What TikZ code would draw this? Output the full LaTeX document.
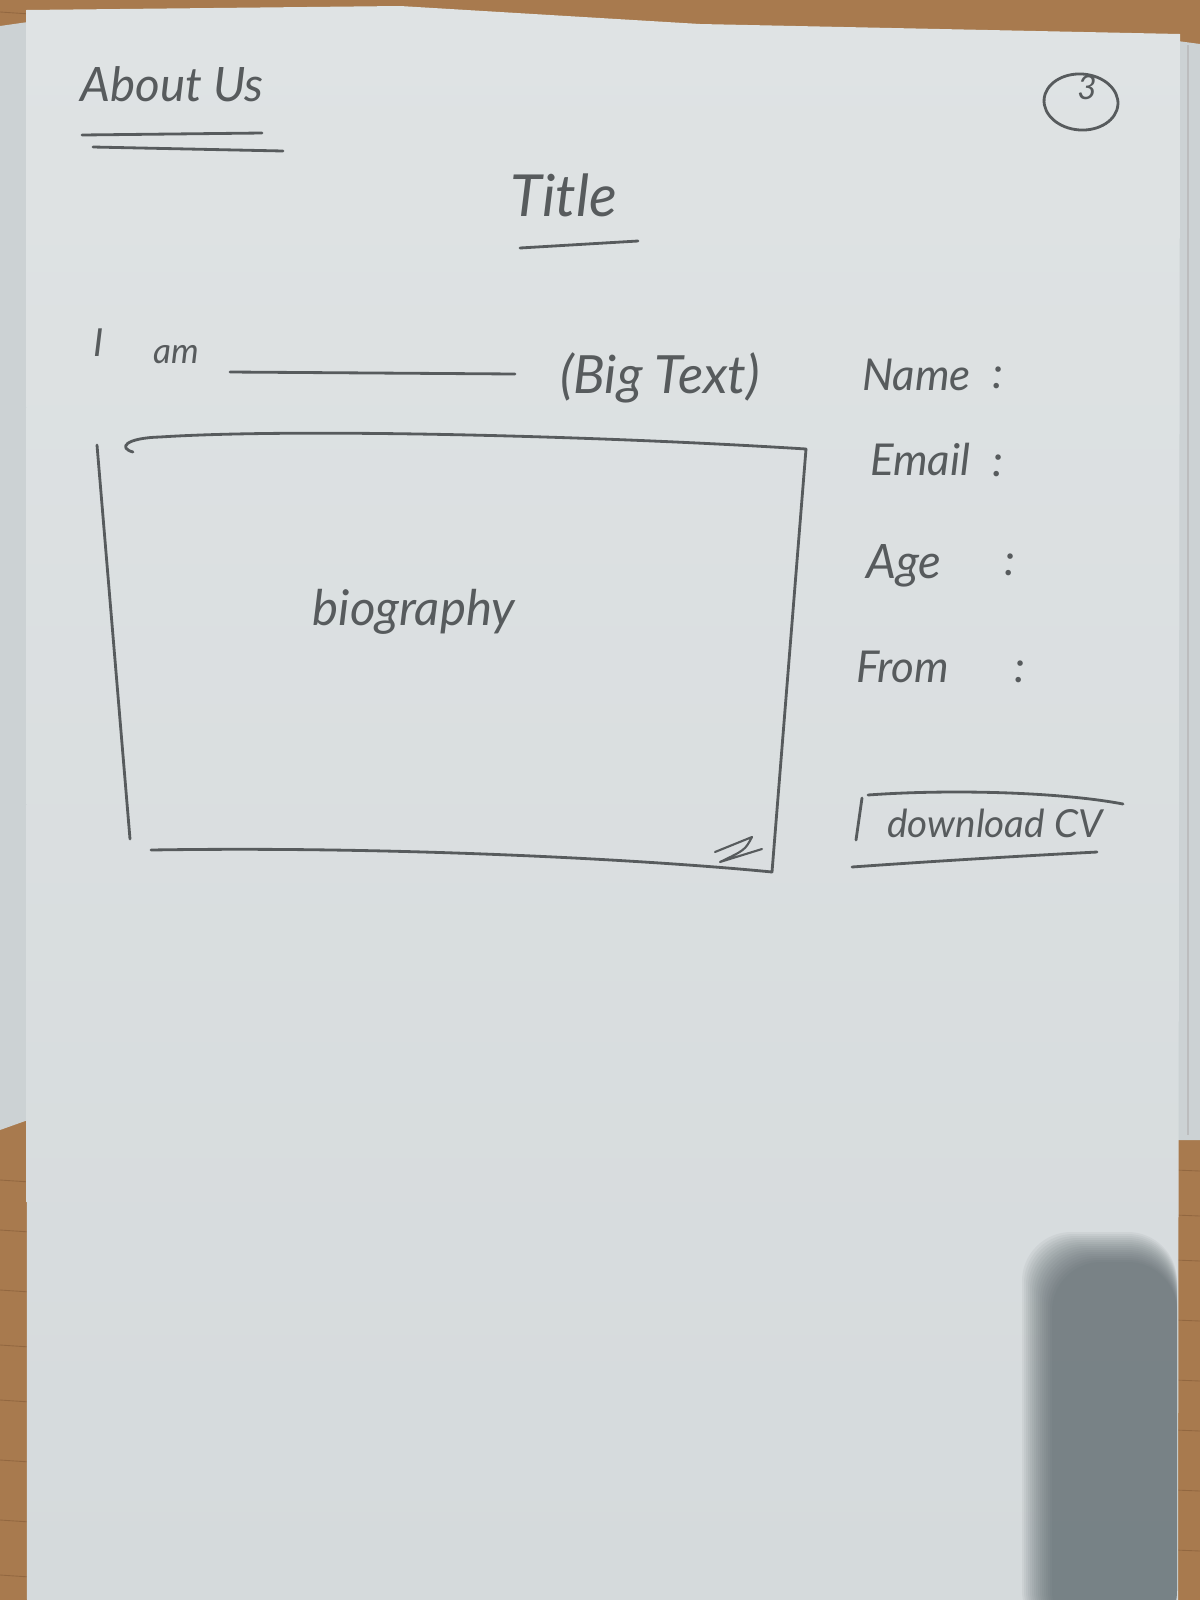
\documentclass[tikz,border=0pt]{standalone}
\usepackage{fontspec}
\setmainfont{Lato}
\usetikzlibrary{calc}
\definecolor{wood}{HTML}{A87A4E}
\definecolor{woodgrain}{HTML}{7E5634}
\definecolor{paper}{HTML}{D5DADC}
\definecolor{paperhi}{HTML}{DFE3E4}
\definecolor{sheet}{HTML}{CCD2D4}
\definecolor{pen}{HTML}{575B5D}
\definecolor{shadowink}{HTML}{505C62}
\begin{document}
\begin{tikzpicture}[x=0.02cm,y=-0.02cm,
  ink/.style={draw=pen, line width=1.6pt, line cap=round, line join=round},
  hand/.style={text=pen, font=\itshape\fontsize{#1}{#1}\selectfont, inner sep=0pt},
]
\useasboundingbox (0,0) rectangle (1200,1600);

% desk
\fill[wood] (0,0) rectangle (1200,1600);
\foreach \yy in {12,1180,1230,1290,1345,1400,1460,1520,1575}
  \draw[woodgrain, line width=0.5pt, opacity=0.5] (0,\yy) -- (30,\yy+2);
\foreach \yy in {1170,1215,1260,1320,1380,1430,1490,1550}
  \draw[woodgrain, line width=0.5pt, opacity=0.5] (1175,\yy) -- (1200,\yy+1);

% sheets lying underneath
\fill[sheet] (0,26) -- (28,22) -- (28,1120) -- (0,1130) -- cycle;
\fill[sheet] (1170,40) -- (1200,44) -- (1200,1140) -- (1170,1140) -- cycle;
\draw[pen!40, line width=0.6pt] (1188,45) -- (1188,1135);

% top sheet
\shade[top color=paperhi, bottom color=paper]
  (26,10) -- (400,6) -- (700,24) -- (1180,34) -- (1178,1600) -- (27,1600) -- cycle;

% soft shadow over the lower right corner
\foreach \d in {0,2,...,30}
  \fill[shadowink, opacity=0.065, rounded corners=28pt]
    (1022+\d,1232+\d) rectangle (1177,1640);

% page heading
\node[hand=27] (about) at (172,84) {About Us};
\draw[ink] (82,135) -- (262,133);
\draw[ink] (93,147) -- (283,151);

% page number
\draw[ink, rotate around={-4:(1081,102)}] (1081,102) ellipse [x radius=37, y radius=28];
\node[hand=19] (pageno) at (1087,88) {3};

% title
\node[hand=33] (title) at (564,195) {Title};
\draw[ink] (520,248) -- (638,241);

% intro line
\node[hand=22] (iword) at (99,343) {I};
\node[hand=20] (amword) at (176,355) {am};
\draw[ink] (230,372) -- (515,374);
\node[hand=30] (bigtext) at (660,378) {(Big Text)};

% biography box
\draw[ink] (133,452) .. controls (118,448) and (125,438) .. (160,437)
  .. controls (300,428) and (600,436) .. (806,449);
\draw[ink] (97,445) -- (130,839);
\draw[ink] (806,449) -- (772,872);
\draw[ink] (151,850) .. controls (400,846) and (650,860) .. (772,872);
\node[hand=28] (bio) at (414,612) {biography};
% resize handle
\draw[ink, line width=1.2pt] (715,852) -- (752,837) .. controls (745,850) .. (720,862) -- (762,849);

% profile details
\node[hand=25, anchor=west] (name) at (862,375) {Name};
\node[hand=25] (namecolon) at (998,378) {:};
\node[hand=25, anchor=west] (email) at (870,459) {Email};
\node[hand=25] (emailcolon) at (998,466) {:};
\node[hand=27, anchor=west] (age) at (866,566) {Age};
\node[hand=25] (agecolon) at (1010,565) {:};
\node[hand=25, anchor=west] (from) at (856,667) {From};
\node[hand=25] (fromcolon) at (1020,672) {:};

% download button
\node[hand=22] (cv) at (995,823) {download CV};
\draw[ink] (868,795) .. controls (950,789) and (1060,792) .. (1123,804);
\draw[ink] (862,798) -- (856,840);
\draw[ink] (852,867) .. controls (950,860) and (1040,855) .. (1097,852);
\end{tikzpicture}
\end{document}
